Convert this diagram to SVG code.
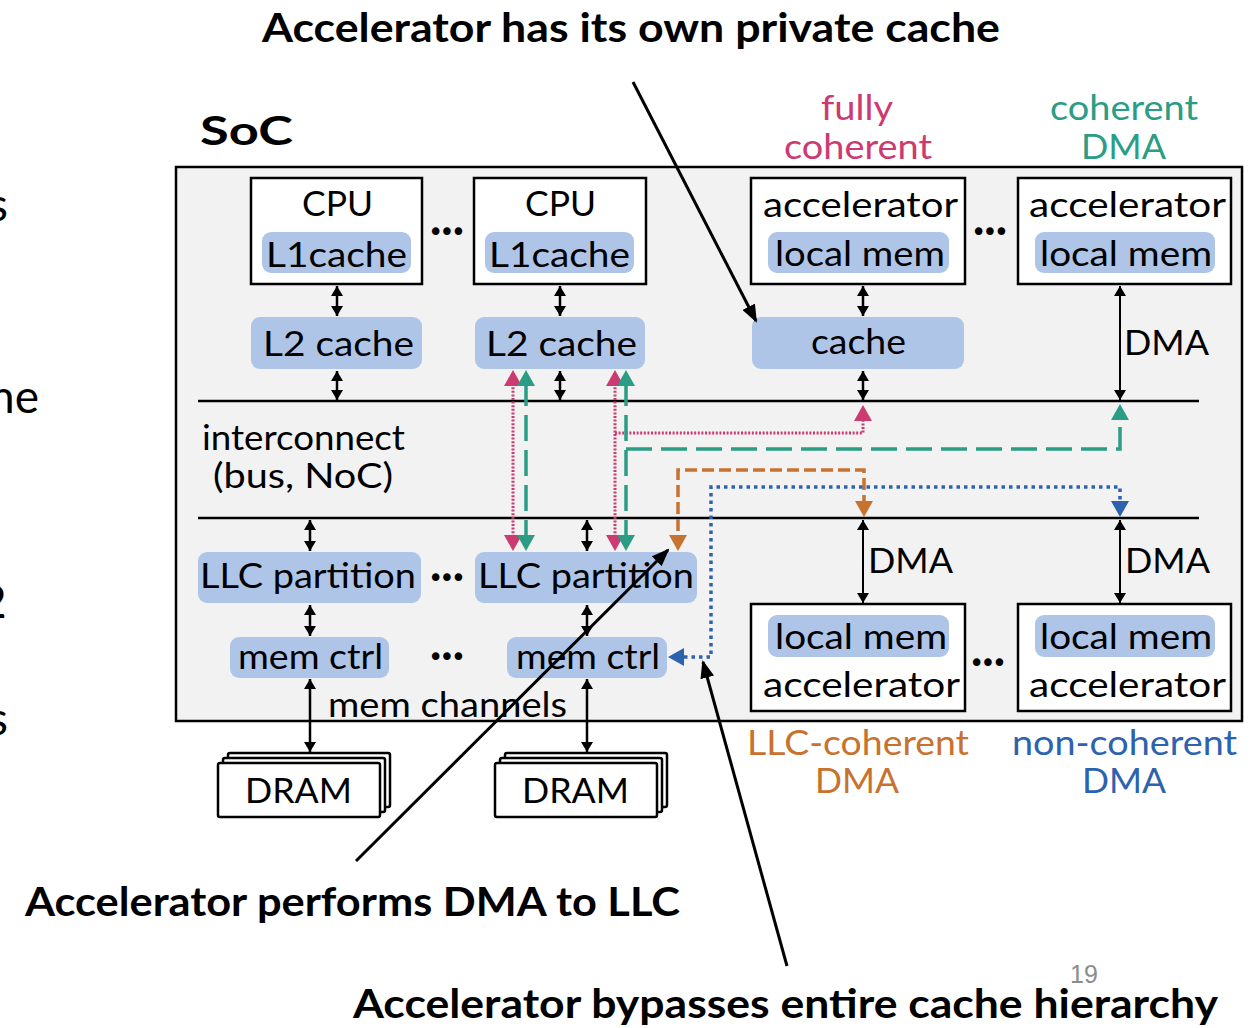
<svg xmlns="http://www.w3.org/2000/svg" width="1253" height="1028" viewBox="0 0 1253 1028">
  <defs>
    <style>
      .t { font-family: Lato, "DejaVu Sans", sans-serif; font-size: 35px; fill: #000; }
      .tb { font-family: Lato, "DejaVu Sans", sans-serif; font-weight: 700; font-size: 40px; fill: #000; }
      .dots { font-family: "DejaVu Sans", sans-serif; font-size: 26px; letter-spacing: -4px; fill: #000; }
      .box { fill: #fff; stroke: #000; stroke-width: 2.5; }
      .pill { fill: #aec5e8; }
      .bus { stroke: #000; stroke-width: 2.5; }
      .ar { stroke: #000; stroke-width: 2.5; fill: none; marker-start: url(#ah); marker-end: url(#ah); }
      .dma { stroke: #000; stroke-width: 2; fill: none; marker-start: url(#ah); marker-end: url(#ah); }
      .fc { stroke: #cc3a72; stroke-width: 3; fill: none; stroke-dasharray: 2 1.6; }
      .cd { stroke: #2a9d84; stroke-width: 3.5; fill: none; stroke-dasharray: 26 9; }
      .lc { stroke: #c8722f; stroke-width: 3.5; fill: none; stroke-dasharray: 12 5; }
      .nc { stroke: #2c62ae; stroke-width: 3.5; fill: none; stroke-dasharray: 3.5 4; }
      .note { stroke: #000; stroke-width: 3; fill: none; marker-end: url(#big); }
      .frag { font-family: Lato, "DejaVu Sans", sans-serif; font-size: 46px; fill: #000; }
    </style>
    <marker id="ah" viewBox="0 0 10 12" refX="10" refY="6" markerWidth="10" markerHeight="12" markerUnits="userSpaceOnUse" orient="auto-start-reverse">
      <path d="M0,0 L10,6 L0,12 z" fill="#000"/>
    </marker>
    <marker id="hFc" viewBox="0 0 16 18" refX="6" refY="9" markerWidth="16" markerHeight="18" markerUnits="userSpaceOnUse" orient="auto-start-reverse">
      <path d="M0,0 L16,9 L0,18 z" fill="#cc3a72"/>
    </marker>
    <marker id="hCd" viewBox="0 0 16 18" refX="6" refY="9" markerWidth="16" markerHeight="18" markerUnits="userSpaceOnUse" orient="auto-start-reverse">
      <path d="M0,0 L16,9 L0,18 z" fill="#2a9d84"/>
    </marker>
    <marker id="hLc" viewBox="0 0 16 18" refX="6" refY="9" markerWidth="16" markerHeight="18" markerUnits="userSpaceOnUse" orient="auto-start-reverse">
      <path d="M0,0 L16,9 L0,18 z" fill="#c8722f"/>
    </marker>
    <marker id="hNc" viewBox="0 0 16 18" refX="6" refY="9" markerWidth="16" markerHeight="18" markerUnits="userSpaceOnUse" orient="auto-start-reverse">
      <path d="M0,0 L16,9 L0,18 z" fill="#2c62ae"/>
    </marker>
    <marker id="big" viewBox="0 0 18 14" refX="16" refY="7" markerWidth="18" markerHeight="14" markerUnits="userSpaceOnUse" orient="auto">
      <path d="M0,0 L18,7 L0,14 z" fill="#000"/>
    </marker>
  </defs>

  <rect width="1253" height="1028" fill="#fff"/>

  <!-- text cut off at the left edge of the slide -->
  <g id="edge-text">
    <text class="frag" x="-12" y="221">s</text>
    <text class="frag" x="-11" y="413">he</text>
    <text class="frag" x="-20" y="618">2</text>
    <text class="frag" x="-12" y="735">s</text>
  </g>

  <!-- SoC outline -->
  <g id="soc">
    <rect x="176" y="167" width="1066" height="554" fill="#f2f2f2" stroke="#000" stroke-width="2.5"/>
    <text class="tb" x="200" y="145" font-size="54" textLength="93" lengthAdjust="spacingAndGlyphs">SoC</text>
  </g>

  <!-- CPU cores with private L1 -->
  <g id="cpu1">
    <rect class="box" x="251" y="178" width="171" height="106"/>
    <text class="t" x="302" y="216" textLength="71" lengthAdjust="spacingAndGlyphs">CPU</text>
    <rect class="pill" x="262" y="232" width="149" height="41" rx="9"/>
    <text class="t" x="266" y="267" textLength="141" lengthAdjust="spacingAndGlyphs">L1cache</text>
  </g>
  <g id="cpu2">
    <rect class="box" x="474" y="178" width="172" height="106"/>
    <text class="t" x="525" y="216" textLength="71" lengthAdjust="spacingAndGlyphs">CPU</text>
    <rect class="pill" x="485" y="232" width="149" height="41" rx="9"/>
    <text class="t" x="489" y="267" textLength="141" lengthAdjust="spacingAndGlyphs">L1cache</text>
  </g>
  <text class="dots" x="428" y="241">•••</text>

  <g id="l2-1">
    <rect class="pill" x="251" y="317" width="171" height="52" rx="9"/>
    <text class="t" x="263" y="356" textLength="151" lengthAdjust="spacingAndGlyphs">L2 cache</text>
  </g>
  <g id="l2-2">
    <rect class="pill" x="475" y="317" width="170" height="52" rx="9"/>
    <text class="t" x="486" y="356" textLength="151" lengthAdjust="spacingAndGlyphs">L2 cache</text>
  </g>

  <!-- accelerators: fully coherent and coherent DMA -->
  <g id="acc-fc">
    <rect class="box" x="751" y="178" width="214" height="106"/>
    <text class="t" x="763" y="217" textLength="195" lengthAdjust="spacingAndGlyphs">accelerator</text>
    <rect class="pill" x="768" y="232" width="181" height="41" rx="9"/>
    <text class="t" x="775" y="266" textLength="170" lengthAdjust="spacingAndGlyphs">local mem</text>
  </g>
  <g id="acc-cdma">
    <rect class="box" x="1018" y="178" width="213" height="106"/>
    <text class="t" x="1029" y="217" textLength="197" lengthAdjust="spacingAndGlyphs">accelerator</text>
    <rect class="pill" x="1035" y="232" width="180" height="41" rx="9"/>
    <text class="t" x="1040" y="266" textLength="172" lengthAdjust="spacingAndGlyphs">local mem</text>
  </g>
  <text class="dots" x="971" y="241">•••</text>

  <g id="acc-cache">
    <rect class="pill" x="752" y="317" width="212" height="52" rx="9"/>
    <text class="t" x="811" y="354" textLength="95" lengthAdjust="spacingAndGlyphs">cache</text>
  </g>

  <!-- interconnect -->
  <g id="interconnect">
    <line class="bus" x1="198" y1="401" x2="1199" y2="401"/>
    <line class="bus" x1="198" y1="518" x2="1199" y2="518"/>
    <text class="t" x="202" y="450" textLength="203" lengthAdjust="spacingAndGlyphs">interconnect</text>
    <text class="t" x="213" y="488" textLength="180" lengthAdjust="spacingAndGlyphs">(bus, NoC)</text>
  </g>

  <!-- last level cache partitions -->
  <g id="llc1">
    <rect class="pill" x="198" y="552" width="223" height="51" rx="9"/>
    <text class="t" x="200" y="588" textLength="216" lengthAdjust="spacingAndGlyphs">LLC partition</text>
  </g>
  <g id="llc2">
    <rect class="pill" x="475" y="552" width="222" height="51" rx="9"/>
    <text class="t" x="478" y="588" textLength="216" lengthAdjust="spacingAndGlyphs">LLC partition</text>
  </g>
  <text class="dots" x="428" y="587">•••</text>

  <!-- memory controllers -->
  <g id="memctrl1">
    <rect class="pill" x="230" y="637" width="159" height="41" rx="9"/>
    <text class="t" x="238" y="669" textLength="145" lengthAdjust="spacingAndGlyphs">mem ctrl</text>
  </g>
  <g id="memctrl2">
    <rect class="pill" x="507" y="637" width="160" height="41" rx="9"/>
    <text class="t" x="516" y="669" textLength="144" lengthAdjust="spacingAndGlyphs">mem ctrl</text>
  </g>
  <text class="dots" x="428" y="666">•••</text>
  <text class="t" x="328" y="717" textLength="239" lengthAdjust="spacingAndGlyphs">mem channels</text>

  <!-- off-chip DRAM stacks -->
  <g id="dram1">
    <rect class="box" x="228" y="753" width="162" height="54" rx="2"/>
    <rect class="box" x="223" y="758" width="162" height="54" rx="2"/>
    <rect class="box" x="218" y="763" width="162" height="54" rx="2"/>
    <text class="t" x="245" y="803" textLength="107" lengthAdjust="spacingAndGlyphs">DRAM</text>
  </g>
  <g id="dram2">
    <rect class="box" x="505" y="753" width="162" height="54" rx="2"/>
    <rect class="box" x="500" y="758" width="162" height="54" rx="2"/>
    <rect class="box" x="495" y="763" width="162" height="54" rx="2"/>
    <text class="t" x="522" y="803" textLength="107" lengthAdjust="spacingAndGlyphs">DRAM</text>
  </g>

  <!-- accelerators: LLC-coherent DMA and non-coherent DMA -->
  <g id="acc-llc">
    <rect class="box" x="751" y="604" width="214" height="107"/>
    <rect class="pill" x="768" y="615" width="181" height="42" rx="9"/>
    <text class="t" x="775" y="649" textLength="172" lengthAdjust="spacingAndGlyphs">local mem</text>
    <text class="t" x="763" y="697" textLength="197" lengthAdjust="spacingAndGlyphs">accelerator</text>
  </g>
  <g id="acc-nc">
    <rect class="box" x="1018" y="604" width="213" height="107"/>
    <rect class="pill" x="1035" y="615" width="180" height="42" rx="9"/>
    <text class="t" x="1040" y="649" textLength="172" lengthAdjust="spacingAndGlyphs">local mem</text>
    <text class="t" x="1029" y="697" textLength="197" lengthAdjust="spacingAndGlyphs">accelerator</text>
  </g>
  <text class="dots" x="969" y="672">•••</text>

  <!-- coherence mode labels -->
  <g id="mode-labels">
    <text class="t" x="821" y="120" style="fill:#cc3a72" textLength="72" lengthAdjust="spacingAndGlyphs">fully</text>
    <text class="t" x="784" y="159" style="fill:#cc3a72" textLength="148" lengthAdjust="spacingAndGlyphs">coherent</text>
    <text class="t" x="1050" y="120" style="fill:#2a9d84" textLength="148" lengthAdjust="spacingAndGlyphs">coherent</text>
    <text class="t" x="1081" y="159" style="fill:#2a9d84" textLength="85" lengthAdjust="spacingAndGlyphs">DMA</text>
    <text class="t" x="747" y="755" style="fill:#c8722f" textLength="222" lengthAdjust="spacingAndGlyphs">LLC-coherent</text>
    <text class="t" x="815" y="793" style="fill:#c8722f" textLength="84" lengthAdjust="spacingAndGlyphs">DMA</text>
    <text class="t" x="1012" y="755" style="fill:#2c62ae" textLength="225" lengthAdjust="spacingAndGlyphs">non-coherent</text>
    <text class="t" x="1082" y="793" style="fill:#2c62ae" textLength="84" lengthAdjust="spacingAndGlyphs">DMA</text>
  </g>

  <!-- connectors -->
  <g id="connectors">
    <!-- black data paths -->
    <path class="ar" d="M337 286 V316"/>
    <path class="ar" d="M337 371 V400"/>
    <path class="ar" d="M560 286 V316"/>
    <path class="ar" d="M560 371 V400"/>
    <path class="ar" d="M863 286 V316"/>
    <path class="ar" d="M863 371 V400"/>
    <path class="dma" d="M1120 286 V400"/>
    <path class="ar" d="M310 520 V551"/>
    <path class="ar" d="M310 605 V636"/>
    <path class="ar" d="M310 679 V752"/>
    <path class="ar" d="M587 520 V551"/>
    <path class="ar" d="M587 605 V636"/>
    <path class="ar" d="M587 679 V752"/>
    <path class="dma" d="M863 520 V603"/>
    <path class="dma" d="M1120 520 V603"/>
    <text class="t" x="1124" y="355" textLength="85" lengthAdjust="spacingAndGlyphs">DMA</text>
    <text class="t" x="868" y="573" textLength="85" lengthAdjust="spacingAndGlyphs">DMA</text>
    <text class="t" x="1125" y="573" textLength="85" lengthAdjust="spacingAndGlyphs">DMA</text>

    <!-- fully coherent -->
    <path class="fc" d="M513 380 V541" marker-start="url(#hFc)" marker-end="url(#hFc)"/>
    <path class="fc" d="M615 380 V541" marker-start="url(#hFc)" marker-end="url(#hFc)"/>
    <path class="fc" d="M615 433 H863 V415" marker-end="url(#hFc)"/>
    <!-- coherent DMA -->
    <path class="cd" d="M526 380 V541" marker-start="url(#hCd)" marker-end="url(#hCd)"/>
    <path class="cd" d="M626 380 V541" marker-start="url(#hCd)" marker-end="url(#hCd)"/>
    <path class="cd" d="M626 449 H1120 V414" marker-end="url(#hCd)"/>
    <!-- LLC-coherent DMA -->
    <path class="lc" d="M864 507 V470 H678 V541" marker-start="url(#hLc)" marker-end="url(#hLc)"/>
    <!-- non-coherent DMA -->
    <path class="nc" d="M1120 507 V487 H711 V657 H678" marker-start="url(#hNc)" marker-end="url(#hNc)"/>
  </g>

  <!-- callouts -->
  <g id="callouts">
    <text class="tb" x="262" y="42" textLength="738" lengthAdjust="spacingAndGlyphs">Accelerator has its own private cache</text>
    <text class="tb" x="25" y="916" textLength="655" lengthAdjust="spacingAndGlyphs">Accelerator performs DMA to LLC</text>
    <text class="tb" x="353" y="1018" textLength="865" lengthAdjust="spacingAndGlyphs">Accelerator bypasses entire cache hierarchy</text>
    <path class="note" d="M633 82 L756 321"/>
    <path class="note" d="M356 861 L668 550"/>
    <path class="note" d="M787 966 L703 662"/>
  </g>

  <text x="1070" y="983" font-family="'Liberation Sans', Lato, sans-serif" font-size="25" fill="#8c8c8c">19</text>
</svg>
